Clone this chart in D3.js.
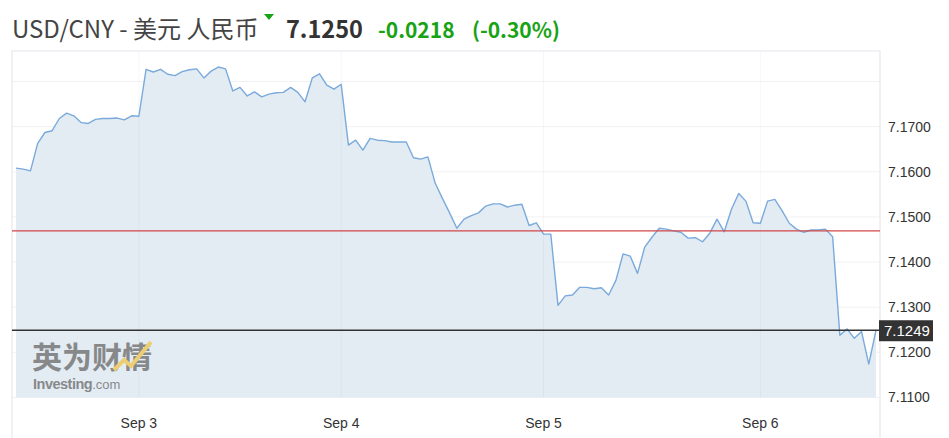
<!DOCTYPE html>
<html>
<head>
<meta charset="utf-8">
<script src="https://cdn.jsdelivr.net/npm/d3@7/dist/d3.min.js"></script>
<style>
    body { margin: 0; background: #ffffff; }
    svg { display: block; }
    .axisText { font-family: "Liberation Sans", Arial, sans-serif; font-size: 14px; fill: #333333; }
</style>
</head>
<body>
<div id="chart"></div>
<script>
//Header texts
var pairName = "USD/CNY - 美元 人民币";
var lastPrice = "7.1250";
var change = "-0.0218";
var changePct = "(-0.30%)";

//Day labels and the point index where each day starts
var dayLabels = ["Sep 3", "Sep 4", "Sep 5", "Sep 6"];
var dayIndex = [17, 45, 73, 103];

//Y ticks
var yTicks = [7.18, 7.17, 7.16, 7.15, 7.14, 7.13, 7.12, 7.11, 7.10];
var yLabels = ["", "7.1700", "7.1600", "7.1500", "7.1400", "7.1300", "7.1200", "7.1100", "7.1000"];

//Reference lines
var prevClose = 7.1469;
var currentPrice = 7.1249;

//Price series
var prices = [
    7.1608, 7.1606, 7.1602, 7.1663, 7.1687, 7.1691, 7.1718, 7.1730, 7.1724, 7.1709,
    7.1707, 7.1716, 7.1718, 7.1718, 7.1719, 7.1715, 7.1724, 7.1723, 7.1827, 7.1821,
    7.1827, 7.1816, 7.1813, 7.1822, 7.1826, 7.1828, 7.1808, 7.1823, 7.1832, 7.1828,
    7.1779, 7.1787, 7.1768, 7.1777, 7.1766, 7.1772, 7.1775, 7.1776, 7.1787, 7.1776,
    7.1755, 7.1808, 7.1817, 7.1792, 7.1783, 7.1794, 7.1659, 7.1670, 7.1648, 7.1674,
    7.1670, 7.1669, 7.1666, 7.1666, 7.1666, 7.1631, 7.1628, 7.1633, 7.1575, 7.1541,
    7.1509, 7.1475, 7.1495, 7.1503, 7.1509, 7.1524, 7.1529, 7.1529, 7.1522, 7.1526,
    7.1528, 7.1481, 7.1487, 7.1462, 7.1462, 7.1304, 7.1325, 7.1327, 7.1344, 7.1344,
    7.1341, 7.1343, 7.1327, 7.1359, 7.1418, 7.1413, 7.1375, 7.1433, 7.1455, 7.1475,
    7.1473, 7.1469, 7.1466, 7.1453, 7.1454, 7.1445, 7.1464, 7.1495, 7.1467, 7.1517,
    7.1552, 7.1535, 7.1487, 7.1486, 7.1535, 7.1539, 7.1514, 7.1486, 7.1473, 7.1466,
    7.1471, 7.1471, 7.1473, 7.1456, 7.1238, 7.1252, 7.1231, 7.1246, 7.1174, 7.1249
];

var w = 949;
var h = 438;
var frame = {left: 12, right: 880, top: 51};
var green = "#17a314";

var svg = d3.select("#chart").append("svg").attr("width", w).attr("height", h);

//Scales
var x = d3.scaleLinear().domain([0, prices.length - 1]).range([16, 876]);
var y = d3.scaleLinear().domain([7.11, 7.18]).range([397.5, 81.5]);

//Header
var header = svg.append("text")
    .attr("x", 12)
    .attr("y", 38)
    .style("font-family", "'Noto Sans CJK SC', 'Noto Sans', sans-serif")
    .style("font-size", "21px");
header.append("tspan").attr("fill", "#444444").style("font-size", "24px").text(pairName);
header.append("tspan").attr("x", 286).attr("fill", "#333333").style("font-size", "23.5px").style("font-weight", "bold").text(lastPrice);
header.append("tspan").attr("x", 378).attr("fill", green).style("font-weight", "bold").text(change);
header.append("tspan").attr("x", 472).attr("fill", green).style("font-weight", "bold").text(changePct);

//little down arrow
svg.append("path")
    .attr("d", "M264,14 L274,14 L269,20 Z")
    .attr("fill", green);

//Grid lines
svg.append("g")
    .selectAll("line")
    .data(yTicks.slice(0, 8))
    .enter()
    .append("line")
    .attr("x1", frame.left)
    .attr("x2", frame.right)
    .attr("y1", function (d) { return y(d); })
    .attr("y2", function (d) { return y(d); })
    .attr("stroke", "#f1f1f4")
    .attr("stroke-width", 1);

//Area and line
var area = d3.area()
    .x(function (d, i) { return x(i); })
    .y0(y(7.11))
    .y1(function (d) { return y(d); });

var line = d3.line()
    .x(function (d, i) { return x(i); })
    .y(function (d) { return y(d); });

svg.append("path")
    .datum(prices)
    .attr("d", area)
    .attr("fill", "#e4ecf3");

svg.append("g")
    .selectAll("line")
    .data(dayIndex)
    .enter()
    .append("line")
    .attr("x1", function (d) { return x(d); })
    .attr("x2", function (d) { return x(d); })
    .attr("y1", frame.top)
    .attr("y2", y(7.11))
    .attr("stroke", "#000000")
    .attr("stroke-opacity", 0.035)
    .attr("stroke-width", 1);

svg.append("path")
    .datum(prices)
    .attr("d", line)
    .attr("fill", "none")
    .attr("stroke", "#79aadb")
    .attr("stroke-width", 1.4)
    .attr("stroke-linejoin", "round");

//Frame
svg.append("path")
    .attr("d", "M" + frame.left + "," + h + " L" + frame.left + "," + frame.top + " L" + frame.right + "," + frame.top + " L" + frame.right + "," + h)
    .attr("fill", "none")
    .attr("stroke", "#e6e6ee")
    .attr("stroke-width", 1.2);

//Watermark
var wm = svg.append("g").attr("opacity", 0.7);
wm.append("text")
    .attr("x", 32)
    .attr("y", 368)
    .attr("fill", "#5f5f5f")
    .style("font-family", "'Noto Sans CJK SC', sans-serif")
    .style("font-size", "30px")
    .style("font-weight", "bold")
    .text("英为财情");
var wm2 = wm.append("text")
    .attr("x", 33)
    .attr("y", 389)
    .attr("fill", "#5f5f5f")
    .style("font-family", "'Liberation Sans', Arial, sans-serif");
wm2.append("tspan").style("font-size", "14.5px").style("font-weight", "bold").style("letter-spacing", "-0.5px").text("Investing");
wm2.append("tspan").style("font-size", "13px").text(".com");
wm.append("path")
    .attr("d", "M114,370 L124,360 L131,366 L151,342")
    .attr("fill", "none")
    .attr("stroke", "#f2c23c")
    .attr("stroke-width", 4);

//Reference lines
svg.append("line")
    .attr("x1", frame.left).attr("x2", frame.right)
    .attr("y1", y(prevClose)).attr("y2", y(prevClose))
    .attr("stroke", "#d2464a")
    .attr("stroke-width", 1.4);

svg.append("line")
    .attr("x1", frame.left).attr("x2", frame.right)
    .attr("y1", y(currentPrice)).attr("y2", y(currentPrice))
    .attr("stroke", "#333333")
    .attr("stroke-width", 1.5);

//Y axis labels
svg.append("g")
    .selectAll("text")
    .data(yTicks)
    .enter()
    .append("text")
    .attr("class", "axisText")
    .attr("x", 888)
    .attr("y", function (d) { return y(d); })
    .attr("dy", "0.35em")
    .text(function (d, i) { return yLabels[i]; });

//Current price box
svg.append("rect")
    .attr("x", 879)
    .attr("y", y(currentPrice) - 10)
    .attr("width", 54)
    .attr("height", 21)
    .attr("fill", "#333333");
svg.append("text")
    .attr("class", "axisText")
    .attr("x", 884)
    .attr("y", y(currentPrice))
    .attr("dy", "0.36em")
    .style("font-size", "15px")
    .style("fill", "#ffffff")
    .text(currentPrice.toFixed(4));

//X axis labels
svg.append("g")
    .selectAll("text")
    .data(dayIndex)
    .enter()
    .append("text")
    .attr("class", "axisText")
    .attr("x", function (d) { return x(d); })
    .attr("y", 428)
    .attr("text-anchor", "middle")
    .text(function (d, i) { return dayLabels[i]; });
</script>
</body>
</html>
